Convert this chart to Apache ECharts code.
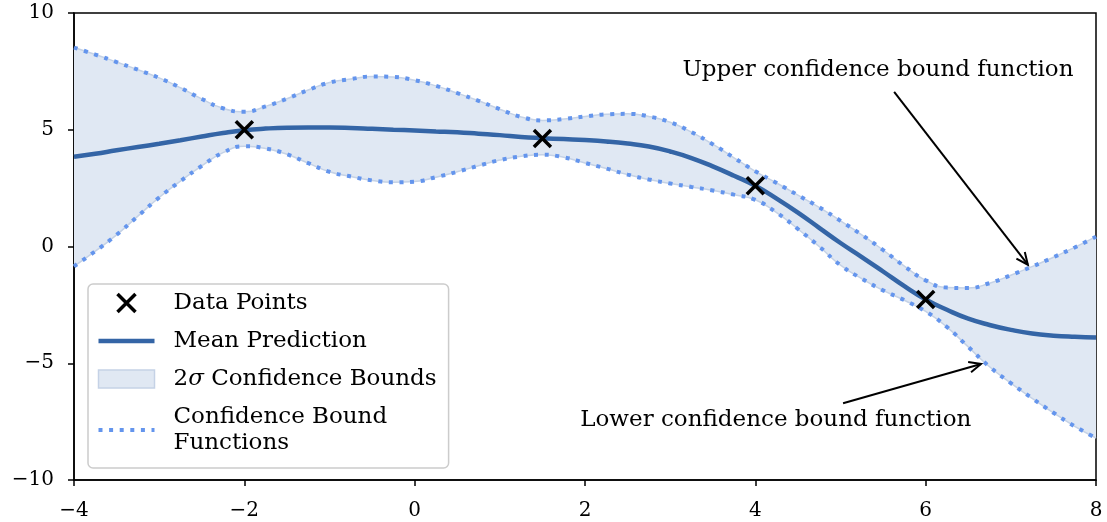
<!DOCTYPE html>
<html>
<head>
<meta charset="utf-8">
<script src="https://cdn.jsdelivr.net/npm/echarts@6/dist/echarts.min.js"></script>
<style>
  html, body { margin: 0; padding: 0; background: #ffffff; }
  #chart { width: 1107px; height: 522px; }
</style>
</head>
<body>
<div id="chart"></div>
<script>
// Gaussian-process style prediction sampled every 0.25 on [-4, 8]
const xGrid = [
  -4, -3.75, -3.5, -3.25, -3, -2.75, -2.5, -2.25, -2, -1.75, -1.5, -1.25, -1,
  -0.75, -0.5, -0.25, 0, 0.25, 0.5, 0.75, 1, 1.25, 1.5, 1.75, 2,
  2.25, 2.5, 2.75, 3, 3.25, 3.5, 3.75, 4,
  4.25, 4.5, 4.75, 5, 5.25, 5.5, 5.75, 6,
  6.25, 6.5, 6.75, 7, 7.25, 7.5, 7.75, 8
];
const meanPrediction = [
  3.84, 3.97, 4.12, 4.26, 4.4, 4.55, 4.71, 4.86, 4.98, 5.05, 5.09, 5.1, 5.1,
  5.08, 5.04, 5.0, 4.97, 4.93, 4.89, 4.83, 4.77, 4.69, 4.64, 4.6, 4.56,
  4.5, 4.41, 4.28, 4.07, 3.79, 3.43, 3.03, 2.6,
  2.05, 1.45, 0.8, 0.15, -0.45, -1.07, -1.7, -2.27,
  -2.71, -3.09, -3.36, -3.57, -3.73, -3.82, -3.87, -3.9
];
const upperBound = [
  8.52, 8.22, 7.9, 7.57, 7.22, 6.8, 6.32, 5.92, 5.77, 6.0, 6.33, 6.7, 7.02,
  7.17, 7.28, 7.26, 7.12, 6.88, 6.57, 6.24, 5.88, 5.55, 5.4, 5.46, 5.57,
  5.66, 5.68, 5.57, 5.32, 4.9, 4.38, 3.8, 3.22,
  2.72, 2.2, 1.68, 1.1, 0.5, -0.15, -0.84, -1.45,
  -1.76, -1.78, -1.57, -1.23, -0.86, -0.46, -0.04, 0.42
];
const lowerBound = [
  -0.85, -0.2, 0.5, 1.3, 2.1, 2.8, 3.45, 4.02, 4.29, 4.2, 3.95, 3.57, 3.2,
  3.0, 2.83, 2.75, 2.78, 2.97, 3.2, 3.46, 3.7, 3.86, 3.93, 3.82, 3.58,
  3.34, 3.08, 2.87, 2.7, 2.55, 2.4, 2.22, 2.0,
  1.45, 0.75, 0.0, -0.8, -1.38, -1.88, -2.3, -2.78,
  -3.45, -4.3, -5.15, -5.85, -6.5, -7.12, -7.7, -8.2
];

// Observed samples
const sampleX = [-2, 1.5, 4, 6];
const sampleY = [5.0, 4.63, 2.6, -2.27];

// Axis ticks
const xTicks = [-4, -2, 0, 2, 4, 6, 8];
const yTicks = [-10, -5, 0, 5, 10];

// Arrow annotations (data coordinates): label centre, arrow tail, arrow head
const annotationText = ['Upper confidence bound function', 'Lower confidence bound function'];
const annotationLabelAt = [[5.44, 7.57], [4.24, -7.43]];
const annotationTail = [[5.63, 6.62], [5.03, -6.71]];
const annotationHead = [[7.2, -0.78], [6.65, -5.03]];

const SERIF = 'DejaVu Serif';
const MEAN_COLOR = '#3465a6';
const BOUND_COLOR = '#6495ed';
const FILL_COLOR = '#e0e8f3';
const FILL_EDGE = '#c5d2e6';
const CROSS = 'path://M0,0L10,10M10,0L0,10';
// horizontal stroke inside a 56x18 box (the moveTo corners fix the box size)
const LEGEND_LINE = 'path://M0,0M56,18M0,9L56,9';
const DOTS = [4, 6.6];

const pairs = ys => xGrid.map((x, i) => [x, ys[i]]);
// the band is stacked on its first dimension, so y values come first here
const bandBase = xGrid.map((x, i) => [lowerBound[i], x]);
const bandWidth = xGrid.map((x, i) => [upperBound[i] - lowerBound[i], x]);
const minus = v => String(v).replace('-', '\u2212');

const chart = echarts.init(document.getElementById('chart'), null, { renderer: 'canvas' });

const axisCommon = {
  type: 'value',
  axisLine: { show: true, onZero: false, lineStyle: { color: '#000', width: 1.5 } },
  axisTick: { show: true, inside: false, length: 6, lineStyle: { color: '#000', width: 1.5 } },
  splitLine: { show: false },
  axisLabel: { color: '#000', fontFamily: SERIF, fontSize: 20, formatter: minus }
};

chart.setOption({
  animation: false,
  backgroundColor: '#ffffff',
  grid: {
    left: 74, right: 11, top: 13, bottom: 42,
    containLabel: false,
    show: true, borderColor: '#000', borderWidth: 1.5, backgroundColor: 'transparent'
  },
  xAxis: Object.assign({}, axisCommon, {
    min: xTicks[0], max: xTicks[xTicks.length - 1], interval: xTicks[1] - xTicks[0],
    axisLabel: Object.assign({}, axisCommon.axisLabel, { margin: 21 })
  }),
  yAxis: Object.assign({}, axisCommon, {
    min: yTicks[0], max: yTicks[yTicks.length - 1], interval: yTicks[1] - yTicks[0],
    axisLabel: Object.assign({}, axisCommon.axisLabel, { margin: 20 })
  }),
  legend: {
    orient: 'vertical',
    left: 88, top: 284,
    padding: [6, 12, 12, 8],
    itemGap: 12,
    itemWidth: 56,
    itemHeight: 18,
    selectedMode: false,
    symbolKeepAspect: true,
    backgroundColor: 'rgba(255,255,255,0.85)',
    borderColor: '#cccccc', borderWidth: 1.5, borderRadius: 5,
    textStyle: {
      color: '#000', fontFamily: SERIF, fontSize: 23, lineHeight: 26,
      padding: [0, 0, 0, 14],
      rich: { s: { fontFamily: SERIF, fontSize: 23, fontStyle: 'italic', lineHeight: 26 } }
    },
    formatter: name => {
      if (name === '2\u03c3 Confidence Bounds') return '2{s|\u03c3} Confidence Bounds';
      if (name === 'Confidence Bound Functions') return 'Confidence Bound\nFunctions';
      return name;
    },
    data: [
      { name: 'Data Points', icon: CROSS,
        itemStyle: { color: 'none', borderColor: '#000', borderWidth: 3.5 } },
      { name: 'Mean Prediction', icon: LEGEND_LINE,
        itemStyle: { color: 'none', borderColor: MEAN_COLOR, borderWidth: 4.5, borderType: 'solid' } },
      { name: '2\u03c3 Confidence Bounds', icon: 'rect',
        itemStyle: { color: FILL_COLOR, borderColor: FILL_EDGE, borderWidth: 1.5 } },
      { name: 'Confidence Bound Functions', icon: LEGEND_LINE,
        itemStyle: { color: 'none', borderColor: BOUND_COLOR, borderWidth: 4, borderType: DOTS, borderCap: 'butt' } }
    ]
  },
  series: [
    {
      name: 'band-base', type: 'line', stack: 'band', stackStrategy: 'all',
      data: bandBase, encode: { x: 1, y: 0 },
      smooth: true, symbol: 'none', silent: true,
      lineStyle: { color: FILL_EDGE, width: 1.5 }, z: 1
    },
    {
      name: '2\u03c3 Confidence Bounds', type: 'line', stack: 'band', stackStrategy: 'all',
      data: bandWidth, encode: { x: 1, y: 0 },
      smooth: true, symbol: 'none', silent: true,
      itemStyle: { color: FILL_COLOR },
      lineStyle: { color: FILL_EDGE, width: 1.5 },
      areaStyle: { color: FILL_COLOR, opacity: 1 }, z: 1
    },
    {
      name: 'Confidence Bound Functions', type: 'line',
      data: pairs(upperBound), smooth: true, symbol: 'none', silent: true,
      itemStyle: { color: BOUND_COLOR },
      lineStyle: { color: BOUND_COLOR, width: 4, type: DOTS, cap: 'butt' }, z: 2
    },
    {
      name: 'Confidence Bound Functions', type: 'line',
      data: pairs(lowerBound), smooth: true, symbol: 'none', silent: true,
      itemStyle: { color: BOUND_COLOR },
      lineStyle: { color: BOUND_COLOR, width: 4, type: DOTS, cap: 'butt' }, z: 2
    },
    {
      name: 'Mean Prediction', type: 'line',
      data: pairs(meanPrediction), smooth: true, symbol: 'none', silent: true,
      itemStyle: { color: MEAN_COLOR },
      lineStyle: { color: MEAN_COLOR, width: 4.5 }, z: 3
    },
    {
      name: 'Data Points', type: 'scatter',
      data: sampleX.map((x, i) => [x, sampleY[i]]),
      symbol: CROSS, symbolSize: 17, symbolKeepAspect: true, silent: true,
      itemStyle: { color: '#000', borderColor: '#000', borderWidth: 3.5, opacity: 1 }, z: 5
    },
    {
      name: 'annotations', type: 'custom', clip: false, silent: true, z: 6,
      data: annotationText.map((t, i) => [
        annotationHead[i][0], annotationHead[i][1],
        annotationTail[i][0], annotationTail[i][1],
        annotationLabelAt[i][0], annotationLabelAt[i][1]
      ]),
      encode: { x: [0, 2, 4], y: [1, 3, 5] },
      renderItem: (params, api) => {
        const head = api.coord([api.value(0), api.value(1)]);
        const tail = api.coord([api.value(2), api.value(3)]);
        const label = api.coord([api.value(4), api.value(5)]);
        const ang = Math.atan2(head[1] - tail[1], head[0] - tail[0]);
        const arm = 13, spread = 0.42;
        const a1 = [head[0] - arm * Math.cos(ang - spread), head[1] - arm * Math.sin(ang - spread)];
        const a2 = [head[0] - arm * Math.cos(ang + spread), head[1] - arm * Math.sin(ang + spread)];
        const stroke = { stroke: '#000', lineWidth: 2, fill: null };
        return {
          type: 'group',
          children: [
            { type: 'line', shape: { x1: tail[0], y1: tail[1], x2: head[0], y2: head[1] }, style: stroke },
            { type: 'polyline', shape: { points: [a1, head, a2] }, style: stroke },
            {
              type: 'text',
              style: {
                x: label[0], y: label[1], text: annotationText[params.dataIndex],
                fill: '#000', font: '23px "' + SERIF + '"',
                align: 'center', verticalAlign: 'middle'
              }
            }
          ]
        };
      }
    }
  ]
});
</script>
</body>
</html>
